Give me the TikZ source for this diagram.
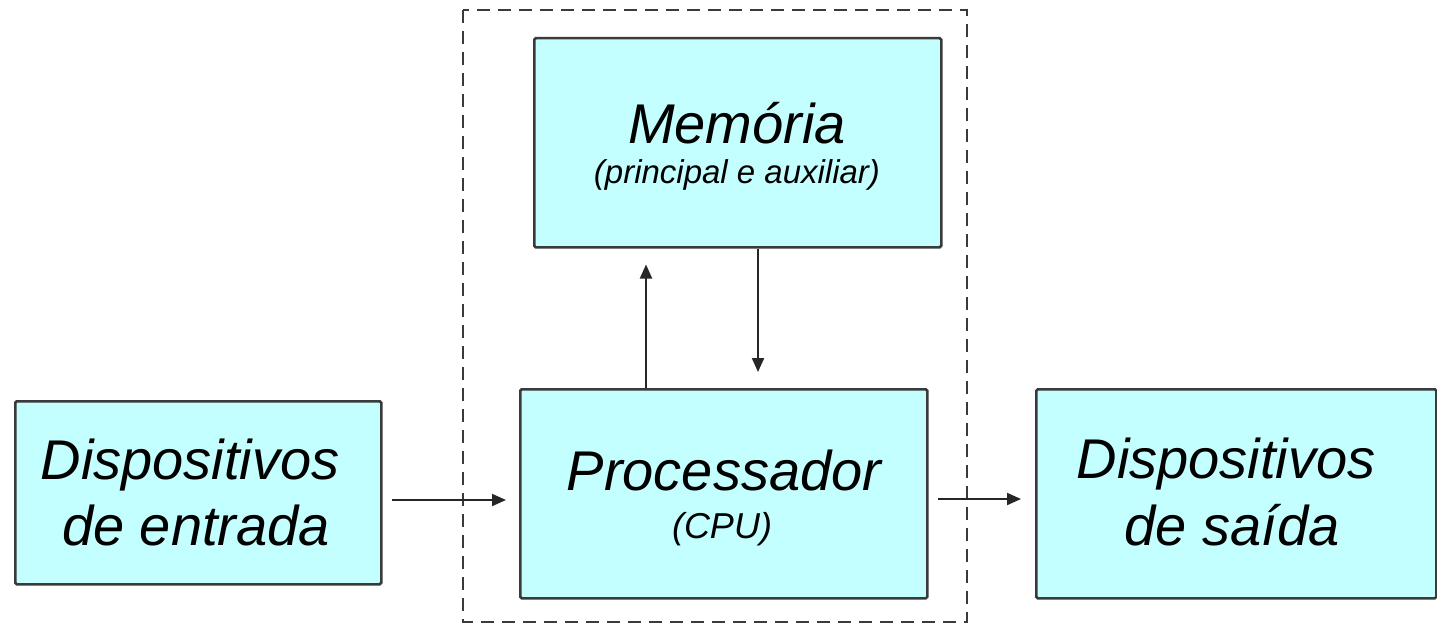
\documentclass[tikz,border=0pt]{standalone}
\usepackage{fontspec}
\setmainfont{Liberation Sans}
\usetikzlibrary{arrows.meta}
\definecolor{boxfill}{HTML}{C4FFFF}
\definecolor{boxline}{HTML}{3A3A3A}
\begin{document}
\begin{tikzpicture}[x=1pt,y=-1pt,
  unit/.style={draw=boxline, line width=2.5pt, fill=boxfill, rounded corners=1.5pt,
    inner sep=0pt, anchor=north west},
  big/.style={font=\itshape\fontsize{56}{66}\selectfont, anchor=base, inner sep=0pt},
  small/.style={font=\itshape\fontsize{33}{40}\selectfont, anchor=base, inner sep=0pt},
  flow/.style={line width=2pt, draw=black!85, -{Triangle[length=14pt,width=12pt]}},
  frame/.style={draw=boxline, line width=2.2pt, dash pattern=on 13pt off 8pt}]
\useasboundingbox (0,0) rectangle (1437,626);

% CPU + memory enclosure
\draw[frame] (463,10) rectangle (967,622);

% blocks
\node[unit, minimum width=366pt, minimum height=183pt] (in)  at (14,400) {};
\node[unit, minimum width=407pt, minimum height=209pt] (mem) at (533,37) {};
\node[unit, minimum width=407pt, minimum height=209pt] (cpu) at (519,388) {};
\node[unit, minimum width=400pt, minimum height=209pt] (out) at (1035,388) {};

% labels
\node[big] (inA) at (190,479) {Dispositivos};
\node[big] (inB) at (196,545) {de entrada};
\node[big] (memA) at (737,143) {Memória};
\node[small] (memB) at (737,183) {(principal e auxiliar)};
\node[big] (cpuA) at (724,490) {Processador};
\node[small, font=\itshape\fontsize{36}{42}\selectfont] (cpuB) at (722,538) {(CPU)};
\node[big] (outA) at (1226,478) {Dispositivos};
\node[big] (outB) at (1232,545) {de saída};

% data paths
\coordinate (inS) at (392,500);
\coordinate (outS) at (938,499);
\coordinate (upX) at (646,0);
\coordinate (downX) at (758,0);
\draw[flow] (inS) -- ([xshift=-13pt]inS -| cpu.west);
\draw[flow] (outS) -- ([xshift=-14pt]outS -| out.west);
\draw[flow] (cpu.north -| upX) -- ([yshift=-16pt]mem.south -| upX);
\draw[flow] (mem.south -| downX) -- ([yshift=16pt]cpu.north -| downX);
\end{tikzpicture}
\end{document}
